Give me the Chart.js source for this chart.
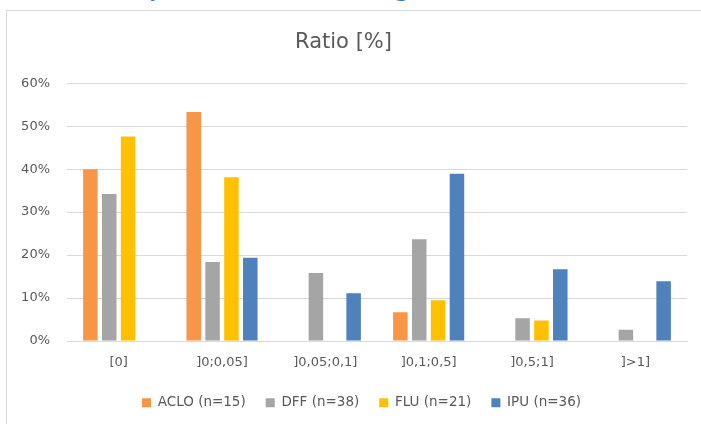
<!DOCTYPE html>
<html>
<head>
<meta charset="utf-8">
<script src="https://cdn.jsdelivr.net/npm/chart.js@4.4.1/dist/chart.umd.min.js"></script>
<style>
  html, body { margin: 0; padding: 0; background: #ffffff; }
  body { width: 701px; height: 424px; overflow: hidden; position: relative; }
  #frame {
    position: absolute; left: 6px; top: 10px; width: 720px; height: 440px;
    border: 1px solid #d9d9d9; box-sizing: border-box; background: #ffffff;
  }
  #heading {
    position: absolute; top: -37px; white-space: nowrap;
    font-family: Lato, sans-serif; font-size: 36px; line-height: 36px; color: #3a7dc9;
  }
  #wrap { position: absolute; left: 0; top: 0; width: 701px; height: 424px; }
</style>
</head>
<body>
<div id="heading">Sample contents [mg/L]</div>
<div id="frame"></div>
<div id="wrap"><canvas id="chart" width="701" height="424"></canvas></div>
<script>
// Concentration classes on the x axis
const categories = ['[0]', ']0;0,05]', ']0,05;0,1]', ']0,1;0,5]', ']0,5;1]', ']>1]'];

// Series labels
const seriesNames = ['ACLO (n=15)', 'DFF (n=38)', 'FLU (n=21)', 'IPU (n=36)'];

// Share of samples per class, in percent
const acloValues = [40.0, 53.3, 0, 6.7, 0, 0];
const dffValues = [34.2, 18.4, 15.8, 23.7, 5.3, 2.6];
const fluValues = [47.6, 38.1, 0, 9.5, 4.8, 0];
const ipuValues = [0, 19.4, 11.1, 38.9, 16.7, 13.9];

// Y axis ticks (percent)
const yTickValues = [0, 10, 20, 30, 40, 50, 60];

const seriesColors = ['#f79646', '#a5a5a5', '#ffc000', '#4f81bd'];
const textColor = '#595959';
const gridColor = '#d9d9d9';
const fontFamily = 'DejaVu Sans';

// Place the heading so that "[" of the unit sits at a fixed x
(function placeHeading() {
  const el = document.getElementById('heading');
  const ctx = document.createElement('canvas').getContext('2d');
  ctx.font = '36px Lato, sans-serif';
  const before = ctx.measureText('Sample contents ').width;
  el.style.left = (352 - before) + 'px';
})();

// Centre the legend row under the plot instead of the whole canvas
const legendShift = {
  id: 'legendShift',
  afterLayout(chart) {
    const lg = chart.legend;
    if (lg) {
      lg.left += 18;
      lg.right += 18;
    }
  }
};

const seriesValues = [acloValues, dffValues, fluValues, ipuValues];

new Chart(document.getElementById('chart'), {
  type: 'bar',
  data: {
    labels: categories,
    datasets: seriesNames.map((name, i) => ({
      label: name,
      data: seriesValues[i],
      backgroundColor: seriesColors[i],
      borderWidth: 0,
      categoryPercentage: 0.73,
      barPercentage: 0.77
    }))
  },
  plugins: [legendShift],
  options: {
    responsive: false,
    devicePixelRatio: 1,
    animation: false,
    layout: { padding: { left: 0, right: 14, top: 0, bottom: 4.5 } },
    plugins: {
      title: {
        display: true,
        text: 'Ratio [%]',
        color: textColor,
        font: { family: fontFamily, size: 21, weight: 'normal' },
        padding: { top: 30, bottom: 28 },
        lineHeight: 1.2
      },
      legend: {
        position: 'bottom',
        labels: {
          color: textColor,
          font: { family: fontFamily, size: 13.5 },
          boxWidth: 9,
          boxHeight: 9,
          padding: 20
        }
      },
      tooltip: { enabled: false }
    },
    scales: {
      x: {
        grid: { display: false, drawTicks: false },
        border: { color: gridColor },
        afterFit: (scale) => { scale.height = 35; },
        ticks: {
          color: textColor,
          font: { family: fontFamily, size: 13 },
          padding: 14,
          maxRotation: 0
        }
      },
      y: {
        min: yTickValues[0],
        max: yTickValues[yTickValues.length - 1],
        afterBuildTicks: (scale) => { scale.ticks = yTickValues.map(v => ({ value: v })); },
        afterFit: (scale) => { scale.width = 67; },
        ticks: {
          color: textColor,
          font: { family: fontFamily, size: 13 },
          padding: 17,
          callback: (v) => v + '%'
        },
        grid: { color: gridColor, drawTicks: false },
        border: { display: false }
      }
    }
  }
});
</script>
</body>
</html>
